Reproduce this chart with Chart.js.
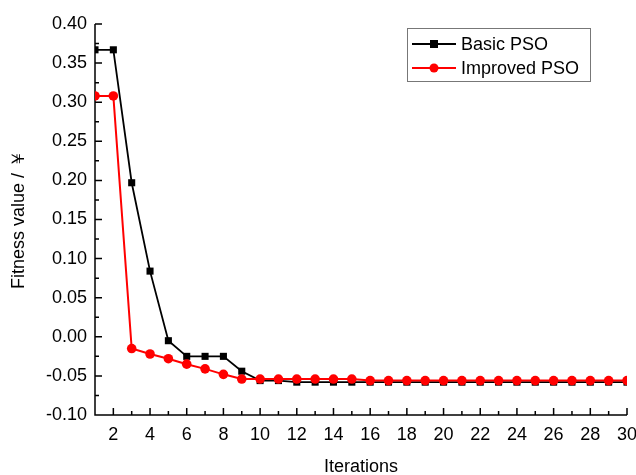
<!DOCTYPE html>
<html>
<head>
<meta charset="utf-8">
<script src="https://cdn.jsdelivr.net/npm/chart.js@4"></script>
<style>
    body { margin: 0; background: #fff; }
    canvas { display: block; }
</style>
</head>
<body>
<canvas id="pso-chart" width="636" height="475"></canvas>
<script>
const iterations = [1, 2, 3, 4, 5, 6, 7, 8, 9, 10, 11, 12, 13, 14, 15, 16, 17, 18, 19, 20, 21, 22, 23, 24, 25, 26, 27, 28, 29, 30];
const basicPSO = [0.367, 0.367, 0.197, 0.084, -0.005, -0.025, -0.025, -0.025, -0.044, -0.056, -0.056, -0.058, -0.058, -0.058, -0.058,
    -0.058, -0.058, -0.058, -0.058, -0.058, -0.058, -0.058, -0.058, -0.058, -0.058, -0.058, -0.058, -0.058, -0.058, -0.058];
const improvedPSO = [0.308, 0.308, -0.015, -0.022, -0.028, -0.035, -0.041, -0.048, -0.054, -0.054, -0.054, -0.054, -0.054, -0.054, -0.054,
    -0.056, -0.056, -0.056, -0.056, -0.056, -0.056, -0.056, -0.056, -0.056, -0.056, -0.056, -0.056, -0.056, -0.056, -0.056];
const seriesNames = ['Basic PSO', 'Improved PSO'];
const xTitle = 'Iterations';
const yTitle = 'Fitness value / ￥';

const FONT = 'Liberation Sans, Arial, sans-serif';

function toPoints(values) {
    return values.map((v, i) => ({ x: iterations[i], y: v }));
}

// inward major/minor ticks and the two axis lines
const axesPlugin = {
    id: 'axes',
    beforeDatasetsDraw(chart) {
        const { ctx, chartArea: a, scales: { x, y } } = chart;
        ctx.save();
        ctx.strokeStyle = '#000';
        ctx.lineWidth = 1.5;
        ctx.beginPath();
        ctx.moveTo(a.left, a.top);
        ctx.lineTo(a.left, a.bottom);
        ctx.lineTo(a.right, a.bottom);
        x.ticks.forEach(t => {
            const px = x.getPixelForValue(t.value);
            const len = t.value % 2 === 0 ? 7 : 4;
            ctx.moveTo(px, a.bottom);
            ctx.lineTo(px, a.bottom - len);
        });
        y.ticks.forEach((t, i) => {
            const py = y.getPixelForValue(t.value);
            ctx.moveTo(a.left, py);
            ctx.lineTo(a.left + 7, py);
            if (i > 0) {
                const pm = y.getPixelForValue((t.value + y.ticks[i - 1].value) / 2);
                ctx.moveTo(a.left, pm);
                ctx.lineTo(a.left + 4, pm);
            }
        });
        ctx.stroke();
        ctx.restore();
    }
};

// boxed legend with line + marker samples
const legendPlugin = {
    id: 'boxLegend',
    afterDraw(chart) {
        const ctx = chart.ctx;
        const left = 407, top = 28, w = 183, h = 53;
        ctx.save();
        ctx.fillStyle = '#fff';
        ctx.fillRect(left, top, w, h);
        ctx.strokeStyle = '#777';
        ctx.lineWidth = 1;
        ctx.strokeRect(left + 0.5, top + 0.5, w, h);
        chart.data.datasets.forEach((ds, i) => {
            const cy = top + 16 + i * 24;
            ctx.strokeStyle = ds.borderColor;
            ctx.lineWidth = 2;
            ctx.beginPath();
            ctx.moveTo(412, cy);
            ctx.lineTo(456, cy);
            ctx.stroke();
            ctx.fillStyle = ds.backgroundColor;
            if (ds.pointStyle === 'rect') {
                ctx.fillRect(434 - 4, cy - 4, 8, 8);
            } else {
                ctx.beginPath();
                ctx.arc(434, cy, 4.5, 0, Math.PI * 2);
                ctx.fill();
            }
            ctx.fillStyle = '#000';
            ctx.font = '18px ' + FONT;
            ctx.textBaseline = 'middle';
            ctx.fillText(ds.label, 461, cy + 1);
        });
        ctx.restore();
    }
};

const config = {
    type: 'line',
    data: {
        datasets: [{
            label: seriesNames[0],
            data: toPoints(basicPSO),
            borderColor: '#000',
            backgroundColor: '#000',
            borderWidth: 1.8,
            pointStyle: 'rect',
            pointRadius: 5,
            pointBorderWidth: 0,
            order: 1
        }, {
            label: seriesNames[1],
            data: toPoints(improvedPSO),
            borderColor: '#ff0000',
            backgroundColor: '#ff0000',
            borderWidth: 2,
            pointStyle: 'circle',
            pointRadius: 4.8,
            pointBorderWidth: 0,
            order: 0
        }]
    },
    options: {
        responsive: false,
        animation: false,
        devicePixelRatio: 1,
        layout: { padding: { left: 0, top: 24, right: 9, bottom: 0 } },
        plugins: {
            legend: { display: false },
            tooltip: { enabled: false }
        },
        scales: {
            x: {
                type: 'linear',
                min: 1,
                max: 30,
                grid: { display: false, drawTicks: false },
                border: { display: false },
                ticks: {
                    stepSize: 1,
                    autoSkip: false,
                    maxRotation: 0,
                    padding: 9,
                    color: '#000',
                    font: { family: FONT, size: 18 },
                    callback: v => (v % 2 === 0 ? v : '')
                },
                title: {
                    display: true,
                    text: xTitle,
                    color: '#000',
                    padding: 0,
                    font: { family: FONT, size: 18, lineHeight: 0.9 }
                },
                afterFit(scale) {
                    scale.height = 60;
                    scale.paddingLeft = 0;
                    scale.paddingRight = 0;
                }
            },
            y: {
                min: -0.1,
                max: 0.4,
                grid: { display: false, drawTicks: false },
                border: { display: false },
                ticks: {
                    stepSize: 0.05,
                    padding: 8,
                    color: '#000',
                    font: { family: FONT, size: 18 },
                    callback: v => v.toFixed(2)
                },
                title: {
                    display: true,
                    text: yTitle,
                    color: '#000',
                    padding: { top: 8, bottom: 0 },
                    font: { family: FONT, size: 18 }
                },
                afterFit(scale) {
                    scale.width = 95;
                }
            }
        }
    },
    plugins: [axesPlugin, legendPlugin]
};

const psoChart = new Chart(document.getElementById('pso-chart'), config);
</script>
</body>
</html>
